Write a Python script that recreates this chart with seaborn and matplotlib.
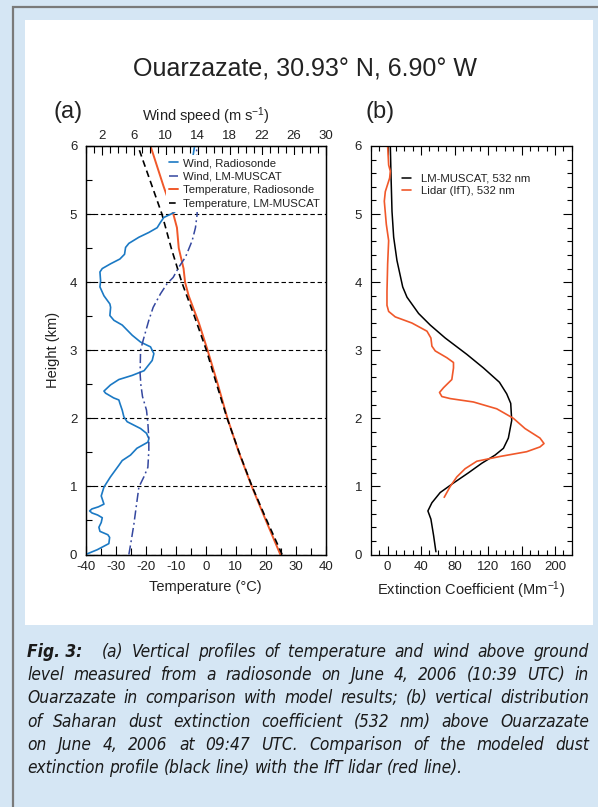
import numpy as np
import pandas as pd
import matplotlib
matplotlib.use("Agg")
import matplotlib.pyplot as plt
import seaborn as sns
from matplotlib.patches import Rectangle
from matplotlib.ticker import MultipleLocator, FixedLocator
from matplotlib import font_manager as fm
from matplotlib.font_manager import FontProperties

# ---------------- data ----------------
# Panel (a): temperature profiles (deg C) vs height (km)
temp_sonde_h = [0.0, 0.5, 1.0, 1.5, 2.0, 2.5, 3.0, 3.4, 3.8, 4.0, 4.2, 4.5, 4.8, 5.0, 5.4, 6.0]
temp_sonde_T = [24.8, 20.0, 15.3, 11.0, 7.2, 4.0, 0.6, -2.3, -5.7, -6.9, -7.4, -9.0, -9.6, -10.8, -14.0, -18.4]
temp_lm_h = [0.0, 0.5, 1.0, 1.5, 2.0, 2.5, 3.0, 3.5, 4.0, 4.5, 5.0, 5.5, 6.0]
temp_lm_T = [25.4, 20.3, 15.4, 11.1, 7.1, 3.6, 0.2, -3.8, -8.0, -11.5, -14.6, -18.6, -22.6]

# Panel (a): wind speed (m/s) vs height (km)
wind_sonde_h = [0.0, 0.07, 0.16, 0.25, 0.29, 0.34, 0.40, 0.47, 0.54, 0.58, 0.61, 0.64, 0.67,
                0.70, 0.74, 0.86, 0.99,
                1.14, 1.31, 1.38, 1.46, 1.56, 1.65, 1.70, 1.78, 1.85, 1.95, 2.02, 2.12, 2.22,
                2.27, 2.30, 2.37, 2.40, 2.49, 2.57, 2.63, 2.70, 2.85, 2.95, 3.05, 3.12, 3.22,
                3.37, 3.44, 3.51, 3.63, 3.68, 3.80, 3.93, 4.02, 4.15, 4.20, 4.27, 4.34, 4.41,
                4.51, 4.57, 4.66, 4.73, 4.80, 4.88, 4.95, 5.02, 5.10, 5.30, 5.60, 5.85, 6.0]
wind_sonde_ws = [0.0, 1.45, 2.9, 3.0, 2.78, 1.79, 1.66, 1.95, 2.08, 1.5, 0.8, 0.5, 0.8,
                 1.6, 2.29, 1.95, 2.29,
                 3.1, 4.15, 4.57, 5.6, 6.4, 7.77, 7.9, 7.6, 6.86, 5.19, 4.78, 4.57, 4.28,
                 4.15, 3.5, 2.49, 2.29, 3.1, 4.15, 5.8, 7.3, 8.31, 8.52, 8.10, 6.86, 5.82,
                 4.57, 3.53, 3.03, 3.12, 3.03, 2.29, 1.79, 1.87, 1.79, 2.08, 3.12, 4.28, 4.86,
                 4.99, 5.40, 6.65, 7.89, 8.93, 9.35, 9.76, 11.0, 11.8, 12.8, 13.3, 13.4, 13.6]
wind_lm_h = [0.0, 0.2, 0.44, 0.74, 0.99, 1.14, 1.28, 1.53, 1.70, 1.93, 2.12, 2.32, 2.49, 2.66,
             3.0, 3.15, 3.44, 3.63, 3.83, 3.98, 4.07, 4.22, 4.37, 4.61, 4.80, 5.0, 5.5, 6.0]
wind_lm_ws = [5.40, 5.69, 6.02, 6.36, 6.65, 7.27, 7.77, 7.89, 7.89, 7.77, 7.6, 7.1, 6.9, 6.8,
              6.86, 7.19, 7.89, 8.43, 9.35, 10.18, 10.93, 11.63, 12.47, 13.3, 13.71, 13.92, 13.9, 13.85]

# Panel (b): extinction coefficient (Mm-1) vs height (km)
ext_lm_h = [0.04, 0.28, 0.52, 0.64, 0.76, 0.91, 1.05, 1.20, 1.34, 1.46, 1.56, 1.71, 1.97, 2.22,
            2.36, 2.53, 2.74, 2.94, 3.18, 3.37, 3.54, 3.78, 3.93, 4.32, 4.66, 5.04, 5.58, 6.0]
ext_lm_E = [57.7, 54.9, 51.7, 48.1, 52.9, 62.8, 78.7, 96.6, 112.5, 128.4, 138.4, 144.3, 148.3, 147.1,
            142.3, 133.6, 114.5, 94.6, 68.8, 50.9, 37.0, 23.1, 18.0, 11.1, 7.2, 5.2, 4.0, 3.2]
ext_lidar_h = [0.84, 1.0, 1.14, 1.26, 1.37, 1.44, 1.51, 1.58, 1.63, 1.71, 1.85, 2.0, 2.07, 2.14,
               2.24, 2.29, 2.32, 2.38, 2.45, 2.57, 2.74, 2.82, 2.89, 2.99, 3.06, 3.18, 3.28, 3.40,
               3.49, 3.57, 3.66, 3.86, 4.27, 4.61, 4.85, 5.19, 5.33, 5.53, 5.63, 5.72, 6.0]
ext_lidar_E = [67.6, 74.8, 82.7, 92.6, 106.6, 134.4, 166.2, 182.1, 186.9, 182.1, 164.2, 150.3, 140.4, 130.4,
               102.6, 74.8, 64.8, 62.0, 66.8, 76.7, 78.7, 78.7, 70.8, 56.9, 52.9, 51.7, 47.0, 29.0,
               9.1, 1.2, -0.8, -0.8, 0.0, 1.2, -1.6, -4.0, -2.8, 2.4, 3.2, 1.2, 0.0]

legend_a = ["Wind, Radiosonde", "Wind, LM-MUSCAT", "Temperature, Radiosonde", "Temperature, LM-MUSCAT"]
legend_b = ["LM-MUSCAT, 532 nm", "Lidar (IfT), 532 nm"]
wind_ticks = [2, 6, 10, 14, 18, 22, 26, 30]

title = "Ouarzazate, 30.93\u00b0 N, 6.90\u00b0 W"
caption_lines = [
    ["Fig. 3:", "(a) Vertical profiles of temperature and wind above ground"],
    ["level measured from a radiosonde on  June 4, 2006 (10:39 UTC) in"],
    ["Ouarzazate in comparison with model results; (b) vertical distribution"],
    ["of Saharan dust extinction coefficient (532 nm) above Ouarzazate"],
    ["on June 4, 2006 at 09:47 UTC. Comparison of the modeled dust"],
    ["extinction profile (black line) with the IfT lidar (red line)."],
]

# ---------------- style ----------------
sns.set_theme(style="white")
plt.rcParams["font.family"] = ["Liberation Sans", "DejaVu Sans"]
plt.rcParams["mathtext.fontset"] = "custom"
plt.rcParams["mathtext.rm"] = "Liberation Sans"
plt.rcParams["mathtext.it"] = "Liberation Sans:italic"
plt.rcParams["axes.unicode_minus"] = False
plt.rcParams["axes.edgecolor"] = "black"
plt.rcParams["axes.linewidth"] = 0.9

BLUE = "#1b79c4"
DBLUE = "#34479f"
RED = "#f0582a"
BG = "#d5e6f4"
TXT = "#222222"

W, H = 598, 807
fig = plt.figure(figsize=(W / 100, H / 100), dpi=100)
fig.patch.set_facecolor(BG)


def fx(px):
    return px / W


def fy(py):
    return 1 - py / H


fig.add_artist(Rectangle((fx(25), fy(625)), fx(593) - fx(25), fy(20) - fy(625),
                         transform=fig.transFigure, fc="white", ec="none", zorder=-10))
fig.add_artist(Rectangle((fx(13), fy(840)), 1.2, fy(7) - fy(840),
                         transform=fig.transFigure, fill=False, ec="#7a7a7a", lw=1.6, zorder=-5))

# ---------------- panel (a) ----------------
axA = fig.add_axes([fx(85.6), fy(554.5), fx(326) - fx(85.6), fy(146) - fy(554.5)])
axW = axA.twiny()
axW.patch.set_visible(False)

sns.lineplot(x=temp_sonde_T, y=temp_sonde_h, ax=axA, sort=False, estimator=None,
             color=RED, lw=1.4)
l_tsonde = axA.lines[-1]
sns.lineplot(x=temp_lm_T, y=temp_lm_h, ax=axA, sort=False, estimator=None,
             color="black", lw=1.2, linestyle=(0, (4, 2.5)))
l_tlm = axA.lines[-1]
sns.lineplot(x=wind_sonde_ws, y=wind_sonde_h, ax=axW, sort=False, estimator=None,
             color=BLUE, lw=1.2)
l_wsonde = axW.lines[-1]
sns.lineplot(x=wind_lm_ws, y=wind_lm_h, ax=axW, sort=False, estimator=None,
             color=DBLUE, lw=1.1, linestyle=(0, (6, 2.2, 1.2, 2.2)))
l_wlm = axW.lines[-1]

axA.set_xlim(-40, 40)
axA.set_ylim(0, 6)
axW.set_xlim(0, 30)
axA.set_xlabel("")
axA.set_ylabel("")
axW.set_xlabel("")
axW.set_ylabel("")

axA.xaxis.set_major_locator(MultipleLocator(10))
axA.xaxis.set_minor_locator(MultipleLocator(5))
axA.yaxis.set_major_locator(MultipleLocator(1))
axA.yaxis.set_minor_locator(MultipleLocator(0.5))
axW.xaxis.set_major_locator(FixedLocator(wind_ticks))
axW.xaxis.set_minor_locator(MultipleLocator(1))

axA.grid(axis="y", which="major", color="black", lw=0.8, linestyle=(0, (4, 2.5)))
axA.grid(axis="x", visible=False)
axW.grid(False)

axA.tick_params(axis="x", which="both", direction="in", bottom=True, top=False,
                labelsize=9.5, labelcolor=TXT, pad=4.5, color="black", width=0.8)
axA.tick_params(axis="x", which="major", length=6.5)
axA.tick_params(axis="x", which="minor", length=5)
axA.tick_params(axis="y", which="both", direction="in", left=True, right=False,
                labelsize=9.5, labelcolor=TXT, pad=6, color="black", width=0.8)
axA.tick_params(axis="y", which="major", length=6)
axA.tick_params(axis="y", which="minor", length=4.5)
axW.tick_params(axis="x", which="both", direction="in", top=True, bottom=False,
                labelsize=9.5, labelcolor=TXT, pad=3, color="black", width=0.8)
axW.tick_params(axis="x", which="major", length=6.5)
axW.tick_params(axis="x", which="minor", length=5)
for sp in axA.spines.values():
    sp.set_color("black")
    sp.set_linewidth(0.9)

axA.set_xlabel("Temperature (\u00b0C)", fontsize=10.5, color=TXT, labelpad=5)
axA.set_ylabel("Height (km)", fontsize=10.5, color=TXT, labelpad=7)
axW.set_xlabel(r"Wind speed (m s$^{-1}$)", fontsize=10.5, color=TXT, labelpad=6)

leg = axW.legend([l_wsonde, l_wlm, l_tsonde, l_tlm], legend_a, loc="upper right",
                 bbox_to_anchor=(0.99, 0.978), frameon=True, fancybox=False, framealpha=1,
                 facecolor="white", edgecolor="none", fontsize=8.2, handlelength=0.8,
                 handletextpad=0.45, labelspacing=0.3, borderpad=0.3, borderaxespad=0)
for t in leg.get_texts():
    t.set_color(TXT)

# ---------------- panel (b) ----------------
axB = fig.add_axes([fx(370.5), fy(554.5), fx(571.7) - fx(370.5), fy(146) - fy(554.5)])
sns.lineplot(x=ext_lm_E, y=ext_lm_h, ax=axB, sort=False, estimator=None, color="black", lw=1.1)
l_elm = axB.lines[-1]
sns.lineplot(x=ext_lidar_E, y=ext_lidar_h, ax=axB, sort=False, estimator=None, color=RED, lw=1.2)
l_elid = axB.lines[-1]
axB.set_xlim(-20.5, 220)
axB.set_ylim(0, 6)
axB.set_xlabel("Extinction Coefficient (Mm$^{-1}$)", fontsize=10.5, color=TXT, labelpad=5)
axB.set_ylabel("")
axB.grid(False)
axB.xaxis.set_major_locator(FixedLocator([0, 40, 80, 120, 160, 200]))
axB.xaxis.set_minor_locator(MultipleLocator(10))
axB.yaxis.set_major_locator(MultipleLocator(1))
axB.yaxis.set_minor_locator(MultipleLocator(0.2))
axB.tick_params(axis="both", which="both", direction="in", top=True, bottom=True, left=True,
                right=True, labelsize=9.5, labelcolor=TXT, color="black", width=0.8)
axB.tick_params(axis="x", which="both", pad=4.5)
axB.tick_params(axis="y", which="both", pad=6)
axB.tick_params(which="major", length=6.5)
axB.tick_params(which="minor", length=3.5)
for sp in axB.spines.values():
    sp.set_color("black")
    sp.set_linewidth(0.9)

legB = axB.legend([l_elm, l_elid], legend_b, loc="upper left", bbox_to_anchor=(0.155, 0.932),
                  frameon=False, fontsize=8.2, handlelength=0.8, handletextpad=0.9,
                  labelspacing=0.2, borderpad=0, borderaxespad=0)
for t in legB.get_texts():
    t.set_color(TXT)

# ---------------- texts ----------------
fig.text(fx(305), fy(69), title, ha="center", va="center", fontsize=18, color=TXT)
fig.text(fx(68), fy(112), "(a)", ha="center", va="center", fontsize=17, color=TXT)
fig.text(fx(380), fy(112), "(b)", ha="center", va="center", fontsize=17, color=TXT)

# ---------------- caption (justified) ----------------
fig.canvas.draw()
rend = fig.canvas.get_renderer()


def pick_caption_font():
    # prefer a narrow italic family, then condensed DejaVu, then Roboto
    try:
        p = fm.findfont(FontProperties(family="Liberation Sans Narrow", style="italic"),
                        fallback_to_default=False)
        if "narrow" in p.lower():
            return dict(family="Liberation Sans Narrow")
    except Exception:
        pass
    try:
        p = fm.findfont(FontProperties(family="DejaVu Sans", style="italic", stretch="condensed"),
                        fallback_to_default=False)
        if "condensed" in p.lower():
            return dict(family="DejaVu Sans", stretch="condensed")
    except Exception:
        pass
    for fam in ["Roboto", "Liberation Sans"]:
        try:
            fm.findfont(FontProperties(family=fam), fallback_to_default=False)
            return dict(family=fam)
        except Exception:
            pass
    return dict(family="DejaVu Sans")


cap_font = pick_caption_font()


def cfp(size, bold=False):
    return FontProperties(style="italic", weight="bold" if bold else "normal", size=size, **cap_font)


def tw(s, p):
    return rend.get_text_width_height_descent(s, p, ismath=False)[0]


x0, x1 = 27.0, 589.0
avail = x1 - x0
base = 12.0
nat = []
for parts in caption_lines[:-1]:
    s = " ".join(parts)
    nat.append(tw(s, cfp(base, False)) + (tw("   ", cfp(base)) if len(parts) > 1 else 0))
size = min(12.4, base * 0.99 * avail / max(nat))

y_base = 657.0
dy = 23.2
for i, parts in enumerate(caption_lines):
    yb = y_base + i * dy
    tokens = []
    for j, part in enumerate(parts):
        if i == 0 and j == 0:
            tokens.append((part, True))
        else:
            for w in part.split(" "):
                if w:
                    tokens.append((w, False))
    widths = [tw(t[0], cfp(size, t[1])) for t in tokens]
    space = tw("a b", cfp(size)) - tw("ab", cfp(size))
    extra = 2.2 * space if i == 0 else 0.0
    if i == len(caption_lines) - 1:
        gap = space
    else:
        gap = (avail - sum(widths) - extra) / (len(tokens) - 1)
    x = x0
    for k, (t, w) in enumerate(zip(tokens, widths)):
        fig.text(fx(x), fy(yb), t[0], fontproperties=cfp(size, t[1]), color="#1a1a1a",
                 ha="left", va="baseline")
        x += w + gap + (extra if (i == 0 and k == 0) else 0)

fig.savefig("out.png", dpi=100, facecolor=fig.get_facecolor())
